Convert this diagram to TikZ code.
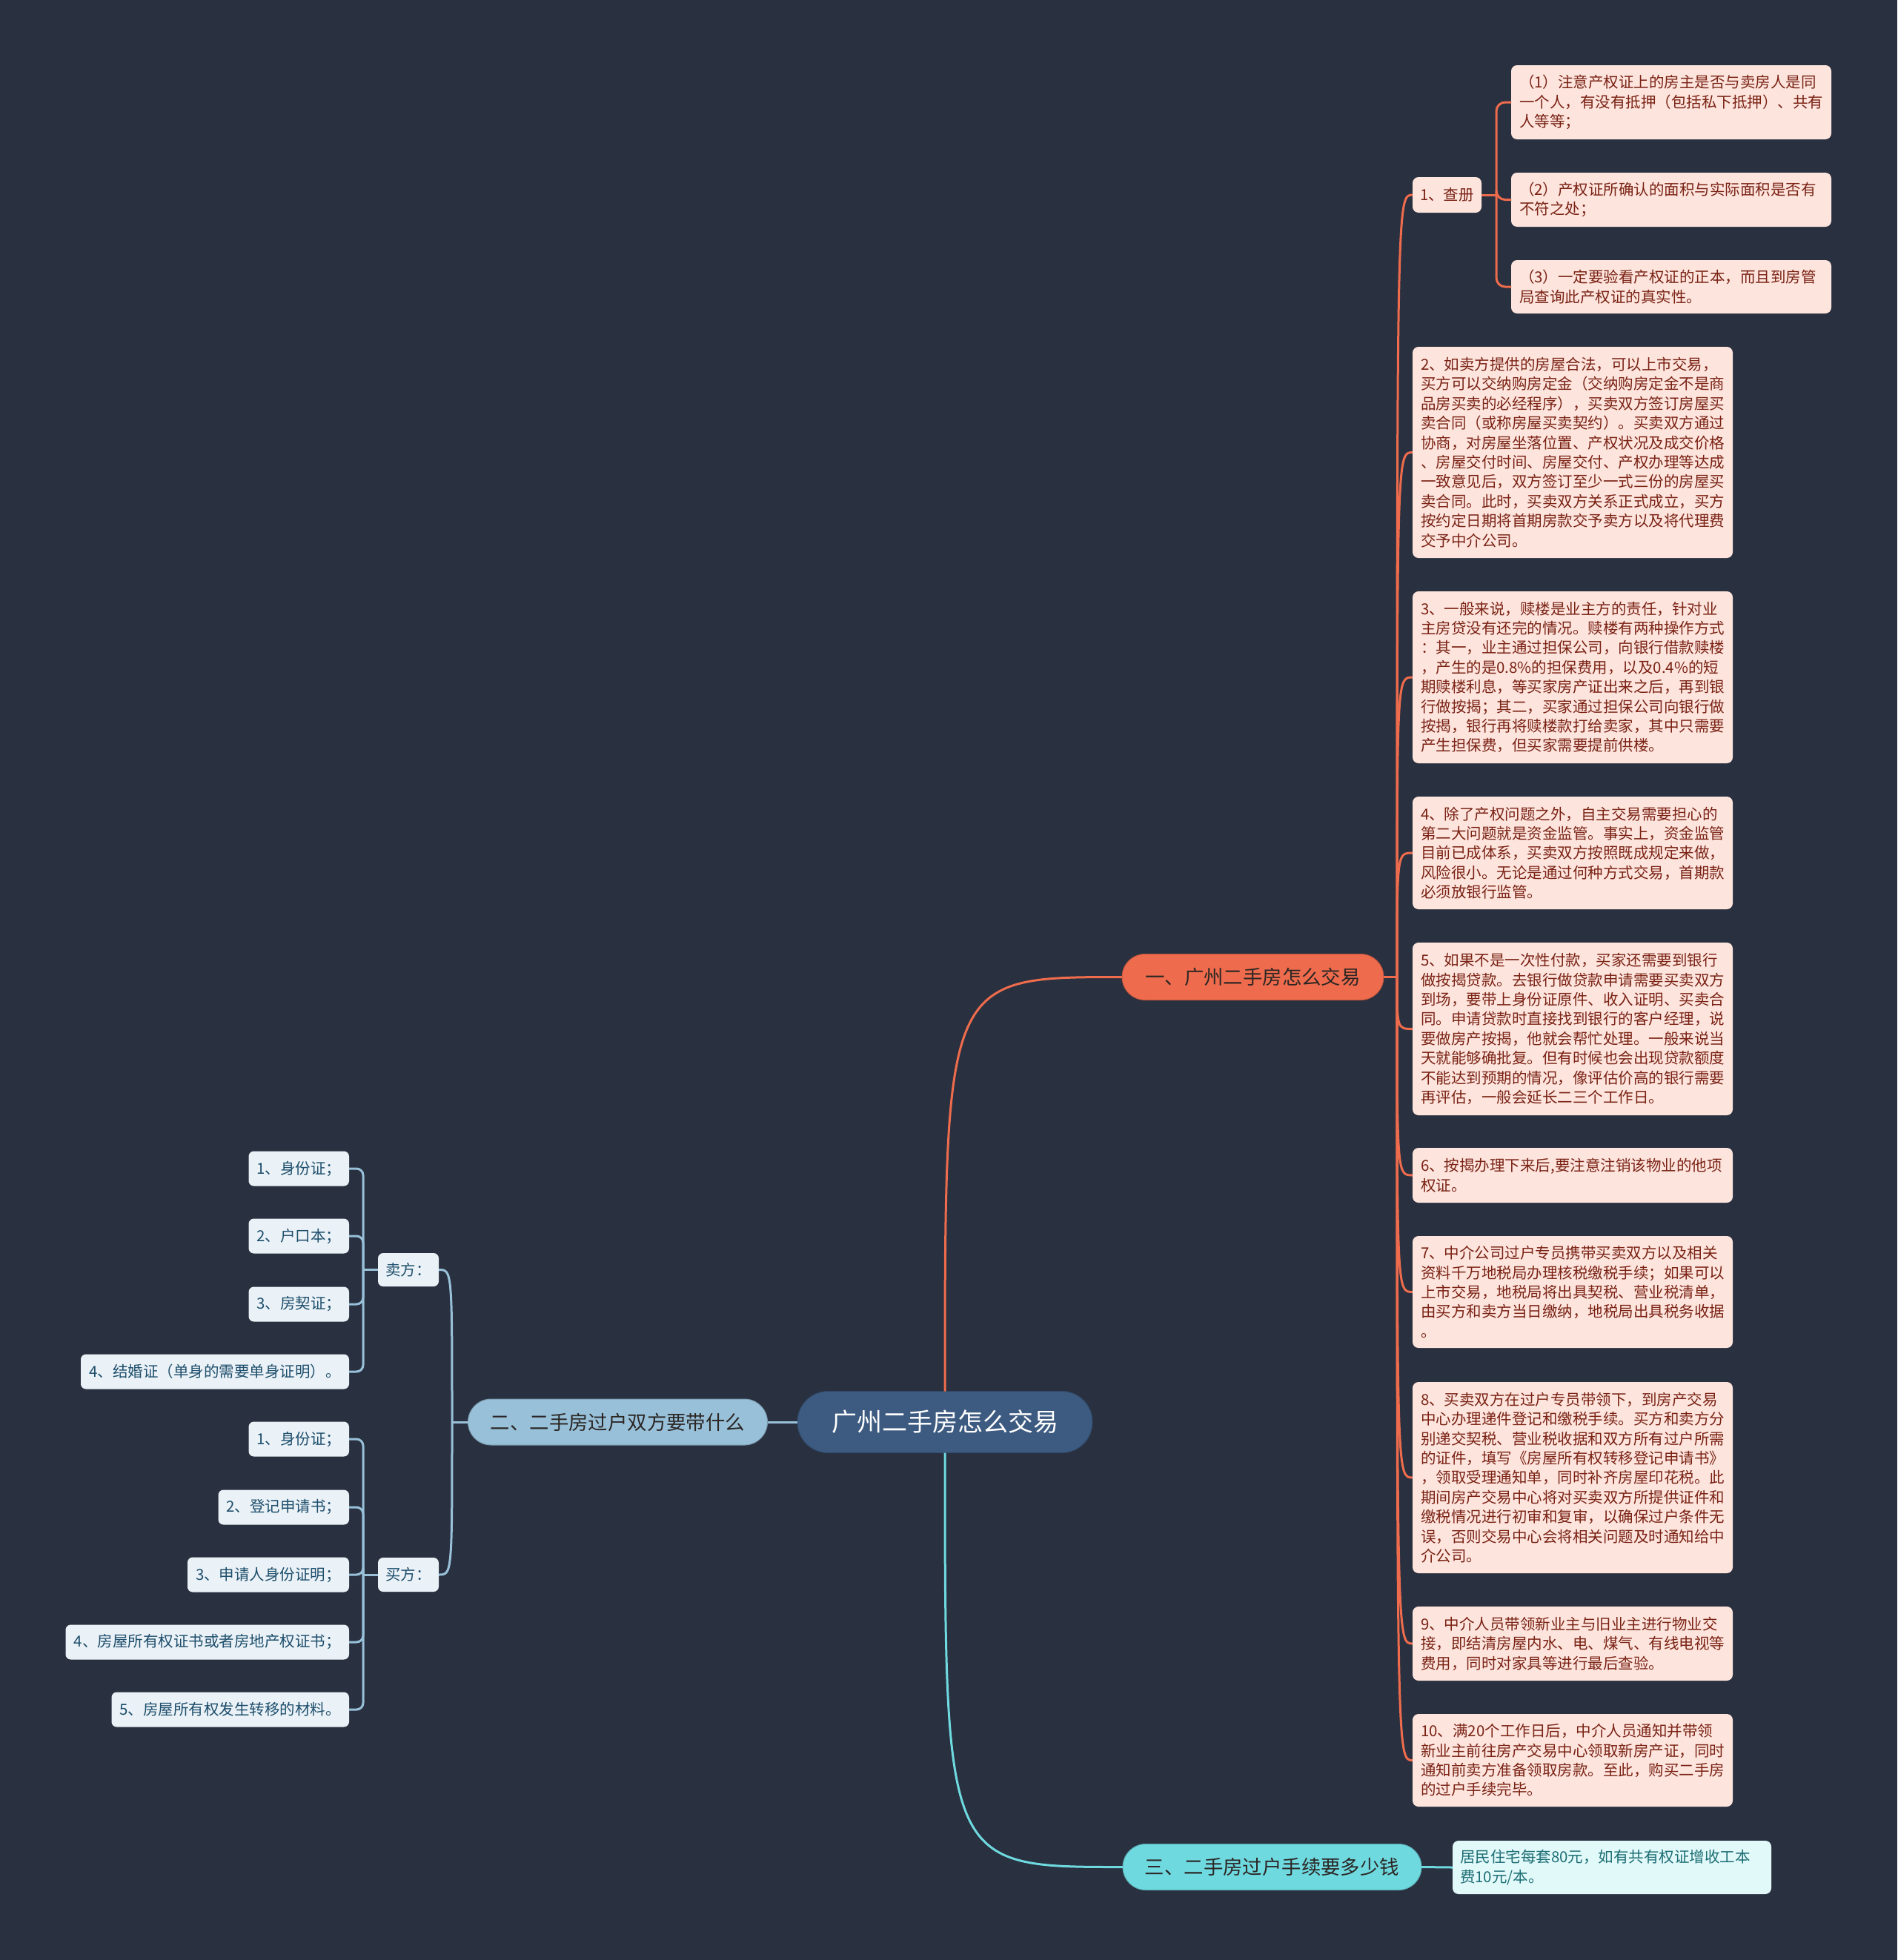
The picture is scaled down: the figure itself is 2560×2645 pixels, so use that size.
\documentclass[tikz,border=0pt]{standalone}
\usepackage{fontspec}
\setmainfont{Noto Sans CJK SC}
\usetikzlibrary{calc}
\definecolor{bg}{HTML}{29303F}
\definecolor{cmain}{HTML}{3D5A80}
\definecolor{corange}{HTML}{EE6C4D}
\definecolor{cblue}{HTML}{98C1D9}
\definecolor{ccyan}{HTML}{6FD9E0}
\definecolor{lpink}{HTML}{FDE5DE}
\definecolor{tred}{HTML}{7A2214}
\definecolor{lblue}{HTML}{EAF2F7}
\definecolor{tblue}{HTML}{1E4E6C}
\definecolor{lcyan}{HTML}{E2F9FA}
\definecolor{tcyan}{HTML}{1C6E74}
\definecolor{tdark}{HTML}{2B2624}
\begin{document}
\begin{tikzpicture}[x=1pt,y=-1pt,
  every node/.style={inner sep=0pt, outer sep=0pt},
  central/.style={fill=cmain, draw=cmain!80!black, line width=1pt, text=white, rounded corners=41pt,
    font=\fontsize{34}{40}\selectfont, minimum width=398pt, minimum height=83pt},
  branch/.style={rounded corners=31pt, minimum height=62pt, line width=1pt,
    font=\fontsize{26.4}{30}\selectfont, text=tdark},
  para/.style={fill=lpink, text=tred, rounded corners=8pt, font=\fontsize{20.5}{26.4}\selectfont,
    align=left, text width=410pt, inner xsep=11pt},
  small/.style={fill=lblue, text=tblue, rounded corners=7pt, font=\fontsize{20.5}{24}\selectfont,
    minimum height=47pt, anchor=east},
  oline/.style={draw=corange, line width=3pt},
  bline/.style={draw=cblue, line width=3pt},
  cline/.style={draw=ccyan, line width=3pt}
]
\fill[bg] (0,0) rectangle (2560,2645);
\useasboundingbox (0,0) rectangle (2560,2645);

% central
\node[central] (root) at (1275,1919) {广州二手房怎么交易};

% branches
\node[branch, fill=corange, draw=corange!80!black, minimum width=353pt] (b1) at (1690.5,1318.5) {一、广州二手房怎么交易};
\node[branch, fill=cblue, draw=cblue!80!black, minimum width=404pt] (b2) at (833.5,1919) {二、二手房过户双方要带什么};
\node[branch, fill=ccyan, draw=ccyan!80!black, minimum width=403pt] (b3) at (1716.5,2519.5) {三、二手房过户手续要多少钱};

% branch 1 leaves
\node[fill=lpink, text=tred, rounded corners=8pt, font=\fontsize{20.5}{24}\selectfont,
  minimum width=93pt, minimum height=48pt] (c1) at (1952.5,263) {1、查册};
\node[para, minimum height=100pt] (s1) at (2255,138) {（1）注意产权证上的房主是否与卖房人是同\\一个人，有没有抵押（包括私下抵押）、共有\\人等等；};
\node[para, minimum height=73pt] (s2) at (2255,269.5) {（2）产权证所确认的面积与实际面积是否有\\不符之处；};
\node[para, minimum height=72pt] (s3) at (2255,387) {（3）一定要验看产权证的正本，而且到房管\\局查询此产权证的真实性。};

\node[para, minimum height=285pt] (l2) at (2122,610.5) {2、如卖方提供的房屋合法，可以上市交易，\\买方可以交纳购房定金（交纳购房定金不是商\\品房买卖的必经程序），买卖双方签订房屋买\\卖合同（或称房屋买卖契约）。买卖双方通过\\协商，对房屋坐落位置、产权状况及成交价格\\、房屋交付时间、房屋交付、产权办理等达成\\一致意见后，双方签订至少一式三份的房屋买\\卖合同。此时，买卖双方关系正式成立，买方\\按约定日期将首期房款交予卖方以及将代理费\\交予中介公司。};
\node[para, minimum height=232pt] (l3) at (2122,914) {3、一般来说，赎楼是业主方的责任，针对业\\主房贷没有还完的情况。赎楼有两种操作方式\\：其一，业主通过担保公司，向银行借款赎楼\\，产生的是0.8\%的担保费用，以及0.4\%的短\\期赎楼利息，等买家房产证出来之后，再到银\\行做按揭；其二，买家通过担保公司向银行做\\按揭，银行再将赎楼款打给卖家，其中只需要\\产生担保费，但买家需要提前供楼。};
\node[para, minimum height=152pt] (l4) at (2122,1151) {4、除了产权问题之外，自主交易需要担心的\\第二大问题就是资金监管。事实上，资金监管\\目前已成体系，买卖双方按照既成规定来做，\\风险很小。无论是通过何种方式交易，首期款\\必须放银行监管。};
\node[para, minimum height=233pt] (l5) at (2122,1388.5) {5、如果不是一次性付款，买家还需要到银行\\做按揭贷款。去银行做贷款申请需要买卖双方\\到场，要带上身份证原件、收入证明、买卖合\\同。申请贷款时直接找到银行的客户经理，说\\要做房产按揭，他就会帮忙处理。一般来说当\\天就能够确批复。但有时候也会出现贷款额度\\不能达到预期的情况，像评估价高的银行需要\\再评估，一般会延长二三个工作日。};
\node[para, minimum height=74pt] (l6) at (2122,1586) {6、按揭办理下来后,要注意注销该物业的他项\\权证。};
\node[para, minimum height=151pt] (l7) at (2122,1743.5) {7、中介公司过户专员携带买卖双方以及相关\\资料千万地税局办理核税缴税手续；如果可以\\上市交易，地税局将出具契税、营业税清单，\\由买方和卖方当日缴纳，地税局出具税务收据\\。};
\node[para, minimum height=258pt] (l8) at (2122,1994) {8、买卖双方在过户专员带领下，到房产交易\\中心办理递件登记和缴税手续。买方和卖方分\\别递交契税、营业税收据和双方所有过户所需\\的证件，填写《房屋所有权转移登记申请书》\\，领取受理通知单，同时补齐房屋印花税。此\\期间房产交易中心将对买卖双方所提供证件和\\缴税情况进行初审和复审，以确保过户条件无\\误，否则交易中心会将相关问题及时通知给中\\介公司。};
\node[para, minimum height=100pt] (l9) at (2122,2218) {9、中介人员带领新业主与旧业主进行物业交\\接，即结清房屋内水、电、煤气、有线电视等\\费用，同时对家具等进行最后查验。};
\node[para, minimum height=125pt] (l10) at (2122,2375.5) {10、满20个工作日后，中介人员通知并带领\\新业主前往房产交易中心领取新房产证，同时\\通知前卖方准备领取房款。至此，购买二手房\\的过户手续完毕。};

% branch 3 leaf
\node[fill=lcyan, text=tcyan, rounded corners=8pt, font=\fontsize{20.5}{26.4}\selectfont,
  align=left, text width=410pt, inner xsep=10pt, minimum height=72pt] (m1) at (2175,2520)
  {居民住宅每套80元，如有共有权证增收工本\\费10元/本。};

% branch 2 leaves
\node[small, anchor=center, minimum width=82pt, minimum height=45pt] (sell) at (551,1713.5) {卖方：};
\node[small, anchor=center, minimum width=82pt, minimum height=46pt] (buy) at (551,2125) {买方：};
\node[small, minimum width=135.5pt] (sa1) at (471,1577) {1、身份证；};
\node[small, minimum width=135.5pt] (sa2) at (471,1668) {2、户口本；};
\node[small, minimum width=135.5pt] (sa3) at (471,1760) {3、房契证；};
\node[small, minimum width=362pt] (sa4) at (471,1851) {4、结婚证（单身的需要单身证明）。};
\node[small, minimum width=135.5pt] (bu1) at (471,1942) {1、身份证；};
\node[small, minimum width=176.5pt] (bu2) at (471,2034) {2、登记申请书；};
\node[small, minimum width=218pt] (bu3) at (471,2125) {3、申请人身份证明；};
\node[small, minimum width=382.5pt] (bu4) at (471,2216) {4、房屋所有权证书或者房地产权证书；};
\node[small, minimum width=320.5pt] (bu5) at (471,2307) {5、房屋所有权发生转移的材料。};

% connectors: root
\draw[oline] (root.north) .. controls (root.north |- b1.west) and (root.north |- b1.west) .. (b1.west);
\draw[cline] (root.south) .. controls (root.south |- b3.west) and (root.south |- b3.west) .. (b3.west);
\draw[bline] (root.west) -- (b2.east);

% branch 1
\coordinate (b1t) at (1885,1318.5);
\draw[oline] (b1.east) -- (b1t);
\foreach \n in {c1,l2,l3,l4,l5,l6,l7,l8,l9,l10}
  \draw[oline] (b1t) .. controls (b1t |- \n.west) and (b1t |- \n.west) .. (\n.west);
\coordinate (c1t) at (2019,263);
\draw[oline] (c1.east) -- (c1t);
\foreach \n in {s1,s2,s3}
  \draw[oline, rounded corners=12pt] (c1t) |- (\n.west);

% branch 3
\draw[cline] (b3.east) -- (m1.west);

% branch 2
\coordinate (b2t) at (610,1919);
\draw[bline] (b2.west) -- (b2t);
\foreach \n in {sell,buy}
  \draw[bline] (b2t) .. controls (b2t |- \n.east) and (b2t |- \n.east) .. (\n.east);
\coordinate (st) at (490,1713.5);
\draw[bline] (sell.west) -- (st);
\foreach \n in {sa1,sa2,sa3,sa4}
  \draw[bline, rounded corners=9pt] (st) |- (\n.east);
\coordinate (bt) at (490,2125);
\draw[bline] (buy.west) -- (bt);
\foreach \n in {bu1,bu2,bu3,bu4,bu5}
  \draw[bline, rounded corners=9pt] (bt) |- (\n.east);
\end{tikzpicture}
\end{document}
